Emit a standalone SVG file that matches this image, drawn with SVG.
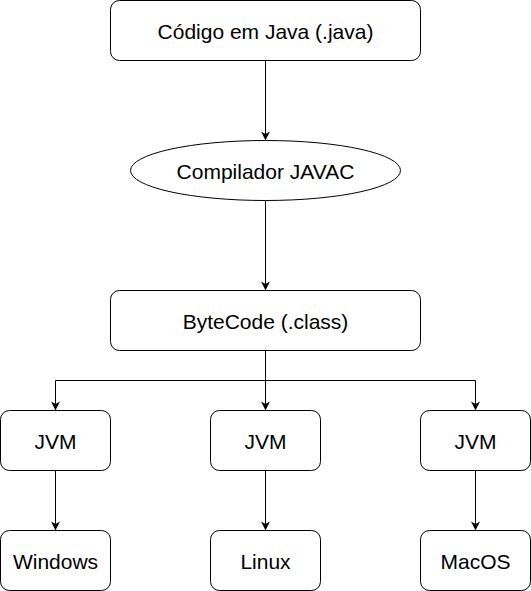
<svg xmlns="http://www.w3.org/2000/svg" width="531" height="591" viewBox="0 0 531 591">
<style>
.n{fill:#fff;stroke:#000;stroke-width:1}
.t{font-family:"Liberation Sans",Arial,sans-serif;font-size:21px;fill:#000;text-anchor:middle;dominant-baseline:central}
.c{fill:none;stroke:#000;stroke-width:1;marker-end:url(#a)}
</style>
<defs>
<marker id="a" viewBox="0 0 10 10" refX="9" refY="5" markerWidth="9" markerHeight="9" markerUnits="userSpaceOnUse" orient="auto">
<path d="M0,0 L10,5 L0,10 L3,5 Z" fill="#000"/>
</marker>
</defs>
<rect width="531" height="591" fill="#fff"/>
<g id="connectors">
<path class="c" d="M265.5,60.5 V139.5"/>
<path class="c" d="M265.5,200.5 V289.5"/>
<path class="c" d="M265.5,350.5 V409.5"/>
<path class="c" d="M265.5,380.5 H55.5 V409.5"/>
<path class="c" d="M265.5,380.5 H475.5 V409.5"/>
<path class="c" d="M55.5,470.5 V529.5"/>
<path class="c" d="M265.5,470.5 V529.5"/>
<path class="c" d="M475.5,470.5 V529.5"/>
</g>
<g id="codigo"><rect class="n" x="110.5" y="0.5" width="310" height="60" rx="9"/><text class="t" x="265.5" y="31">Código em Java (.java)</text></g>
<g id="javac"><ellipse class="n" cx="265.5" cy="170.5" rx="135" ry="30"/><text class="t" x="265.5" y="171">Compilador JAVAC</text></g>
<g id="bytecode"><rect class="n" x="110.5" y="290.5" width="310" height="60" rx="9"/><text class="t" x="265.5" y="321">ByteCode (.class)</text></g>
<g id="jvm1"><rect class="n" x="0.5" y="410.5" width="110" height="60" rx="9"/><text class="t" x="55.5" y="441">JVM</text></g>
<g id="jvm2"><rect class="n" x="210.5" y="410.5" width="110" height="60" rx="9"/><text class="t" x="265.5" y="441">JVM</text></g>
<g id="jvm3"><rect class="n" x="420.5" y="410.5" width="110" height="60" rx="9"/><text class="t" x="475.5" y="441">JVM</text></g>
<g id="windows"><rect class="n" x="0.5" y="530.5" width="110" height="60" rx="9"/><text class="t" x="55.5" y="561">Windows</text></g>
<g id="linux"><rect class="n" x="210.5" y="530.5" width="110" height="60" rx="9"/><text class="t" x="265.5" y="561">Linux</text></g>
<g id="macos"><rect class="n" x="420.5" y="530.5" width="110" height="60" rx="9"/><text class="t" x="475.5" y="561">MacOS</text></g>
</svg>
